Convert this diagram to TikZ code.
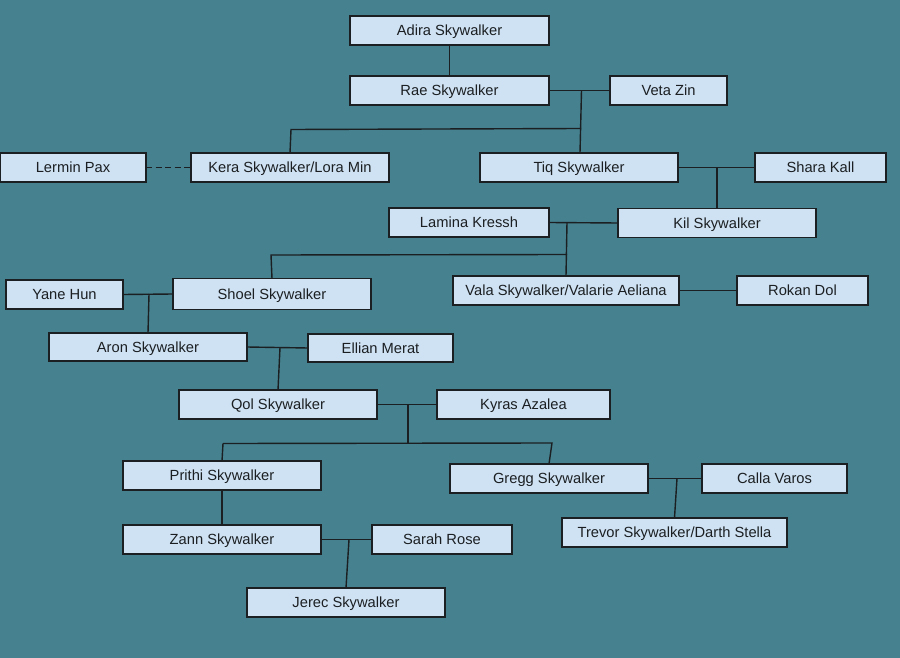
\documentclass[tikz,border=0pt]{standalone}
\usepackage{fontspec}
\setmainfont{Liberation Sans}
\definecolor{bgteal}{HTML}{45818E}
\definecolor{boxfill}{HTML}{CFE2F3}
\definecolor{ink}{HTML}{1B1F22}
\tikzset{
  person/.style={draw=ink, fill=boxfill, line width=1.3pt, inner sep=0pt, outer sep=0pt,
    minimum height=29pt, text height=10.5pt, text depth=0pt, text=ink,
    font=\fontsize{14.7pt}{16pt}\selectfont},
  link/.style={draw=ink, line width=1.4pt},
  dashlink/.style={link, dash pattern=on 6pt off 3.5pt}
}
\begin{document}
\begin{tikzpicture}[x=1pt,y=-1pt]
\fill[bgteal] (0,0) rectangle (900,658);
\useasboundingbox (0,0) rectangle (900,658);

\node[person, minimum width=199pt] (adira) at (449.5,30.5) {Adira Skywalker};
\node[person, minimum width=199pt] (rae) at (449.5,90.5) {Rae Skywalker};
\node[person, minimum width=117pt] (veta) at (668.5,90.5) {Veta Zin};
\node[person, minimum width=146pt] (lermin) at (73,167.5) {Lermin Pax};
\node[person, minimum width=198pt] (kera) at (290,167.5) {Kera Skywalker/Lora Min};
\node[person, minimum width=198pt] (tiq) at (579,167.5) {Tiq Skywalker};
\node[person, minimum width=131pt] (shara) at (820.5,167.5) {Shara Kall};
\node[person, minimum width=160pt] (lamina) at (469,222.5) {Lamina Kressh};
\node[person, minimum width=198pt] (kil) at (717,223) {Kil Skywalker};
\node[person, minimum width=117pt] (yane) at (64.5,294.5) {Yane Hun};
\node[person, minimum width=198pt, minimum height=31pt] (shoel) at (272,294) {Shoel Skywalker};
\node[person, minimum width=226pt] (vala) at (566,290.5) {Vala Skywalker/Valarie Aeliana};
\node[person, minimum width=131pt] (rokan) at (802.5,290.5) {Rokan Dol};
\node[person, minimum width=198pt, minimum height=28pt] (aron) at (148,347) {Aron Skywalker};
\node[person, minimum width=145pt, minimum height=28pt] (ellian) at (380.5,348) {Ellian Merat};
\node[person, minimum width=198pt] (qol) at (278,404.5) {Qol Skywalker};
\node[person, minimum width=173pt] (kyras) at (523.5,404.5) {Kyras Azalea};
\node[person, minimum width=198pt] (prithi) at (222,475.5) {Prithi Skywalker};
\node[person, minimum width=198pt] (gregg) at (549,478.5) {Gregg Skywalker};
\node[person, minimum width=145pt] (calla) at (774.5,478.5) {Calla Varos};
\node[person, minimum width=198pt] (zann) at (222,539.5) {Zann Skywalker};
\node[person, minimum width=140pt] (sarah) at (442,539.5) {Sarah Rose};
\node[person, minimum width=225pt] (trevor) at (674.5,532.5) {Trevor Skywalker/Darth Stella};
\node[person, minimum width=198pt] (jerec) at (346,602.5) {Jerec Skywalker};

% junction points
\coordinate (jrae) at (581.5,90.5);
\coordinate (hrae) at (581,128.5);
\coordinate (hkera) at (291,129.5);
\coordinate (jtiq) at (717,167.5);
\coordinate (jkil) at (567,222.5);
\coordinate (hkil) at (567,254.5);
\coordinate (hshoel) at (271,255);
\coordinate (jshoel) at (149,294);
\coordinate (jaron) at (280,347.5);
\coordinate (jqol) at (408,404.5);
\coordinate (hqol) at (408,442.5);
\coordinate (hprithi) at (223,443.5);
\coordinate (hgregg) at (552,443);
\coordinate (jzann) at (349,539.5);
\coordinate (jgregg) at (677,478.5);

\draw[link] (adira) -- (rae);
\draw[link] (rae.east) -- (veta.west);
\draw[link] (jrae) -- (tiq.north -| 580,0);
\draw[link] (hrae) -- (hkera) -- (kera.north);
\draw[dashlink] (lermin.east) -- (kera.west);
\draw[link] (tiq.east) -- (shara.west);
\draw[link] (jtiq) -- (kil.north);
\draw[link] (lamina.east) -- (kil.west);
\draw[link] (jkil) -- (vala.north);
\draw[link] (hkil) -- (hshoel) -- (shoel.north);
\draw[link] (vala.east) -- (rokan.west);
\draw[link] (yane.east) -- (shoel.west);
\draw[link] (jshoel) -- (aron.north);
\draw[link] (aron.east) -- (ellian.west);
\draw[link] (jaron) -- (qol.north);
\draw[link] (qol.east) -- (kyras.west);
\draw[link] (jqol) -- (hqol);
\draw[link] (hprithi) -- (prithi.north);
\draw[link] (hprithi) -- (hgregg) -- (gregg.north);
\draw[link] (prithi) -- (zann);
\draw[link] (zann.east) -- (sarah.west);
\draw[link] (jzann) -- (jerec.north);
\draw[link] (gregg.east) -- (calla.west);
\draw[link] (jgregg) -- (trevor.north);
\end{tikzpicture}
\end{document}
